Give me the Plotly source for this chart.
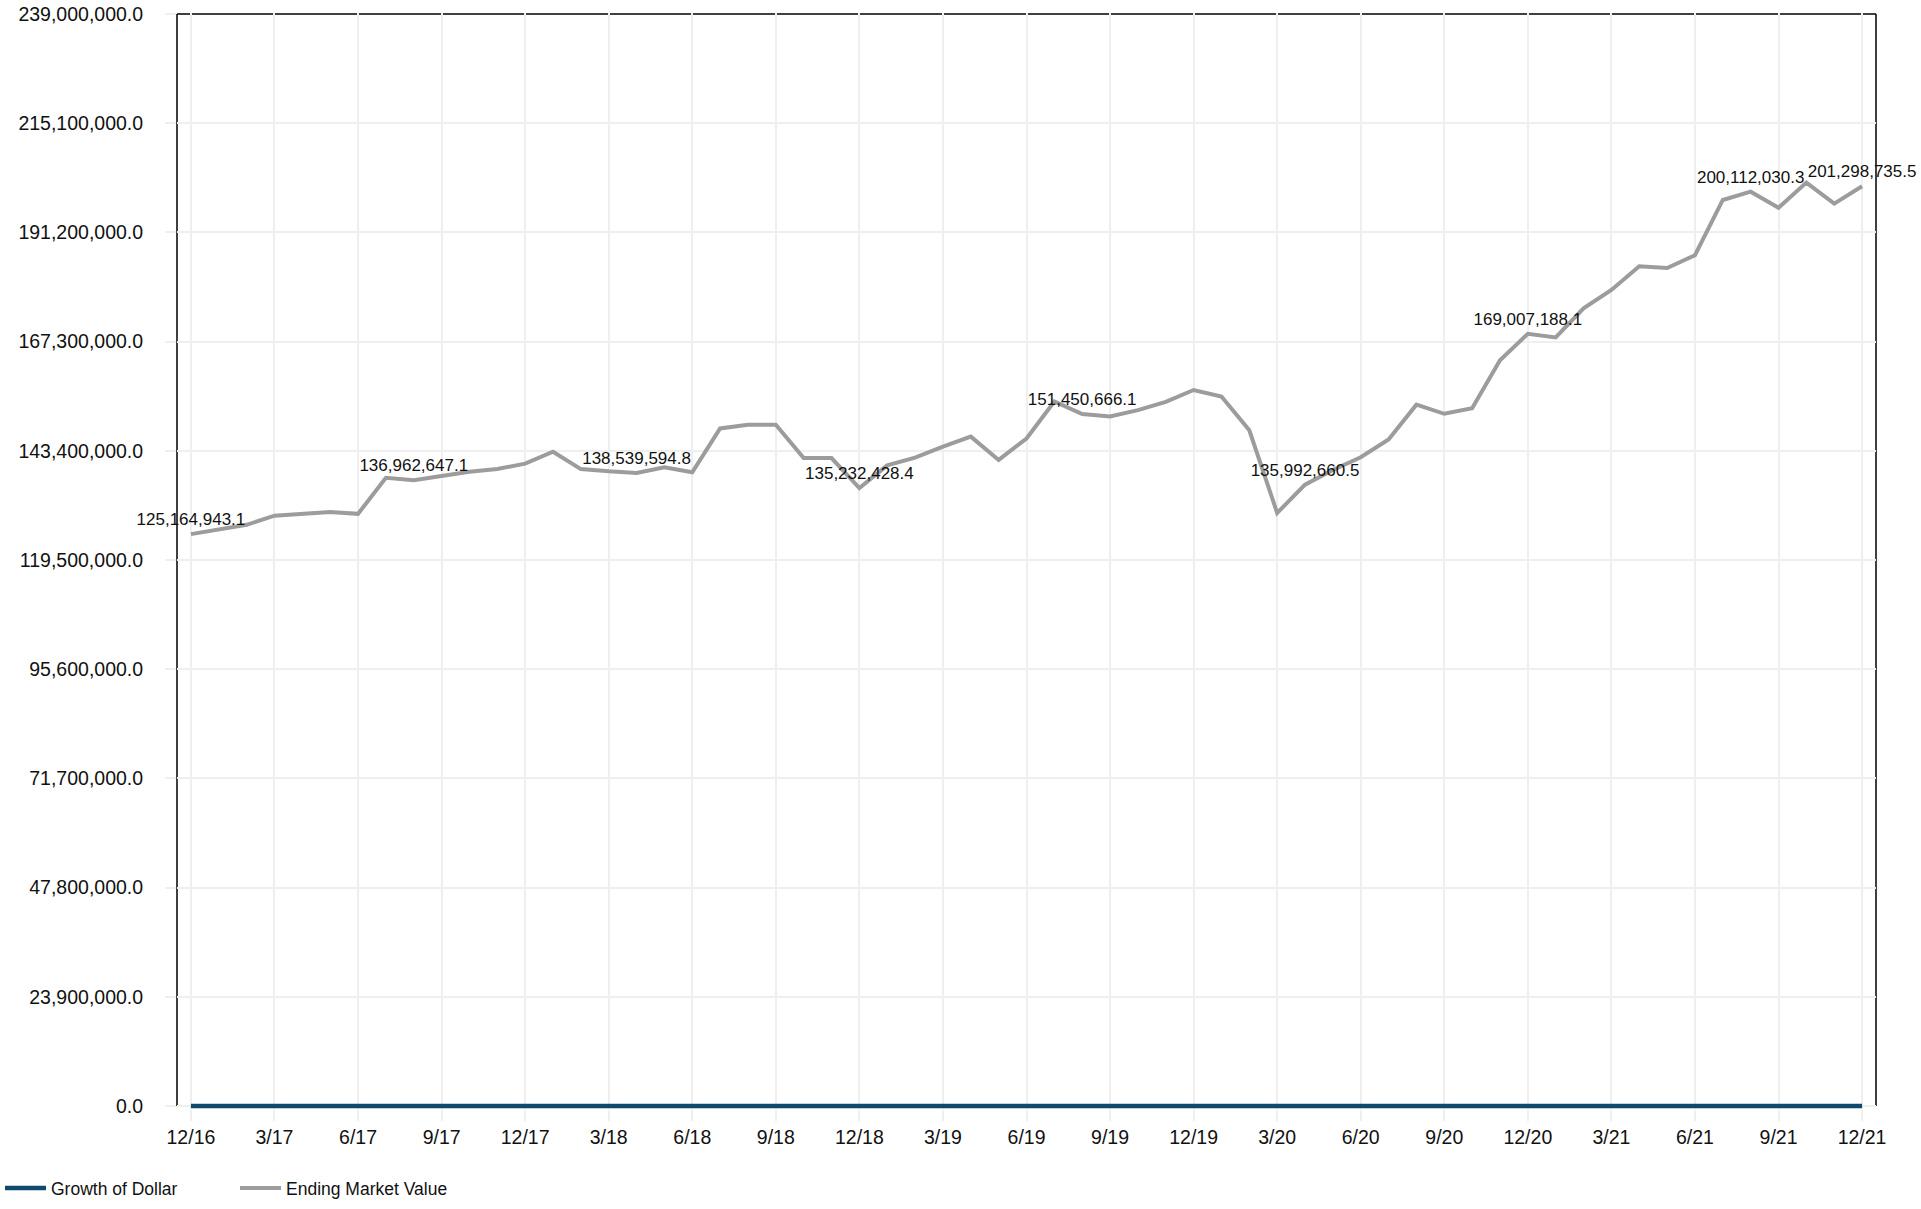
import plotly.graph_objects as go

# Month-end periods, 12/16 through 12/21
months = [
    "12/16",
    "1/17", "2/17", "3/17", "4/17", "5/17", "6/17", "7/17", "8/17", "9/17", "10/17", "11/17", "12/17",
    "1/18", "2/18", "3/18", "4/18", "5/18", "6/18", "7/18", "8/18", "9/18", "10/18", "11/18", "12/18",
    "1/19", "2/19", "3/19", "4/19", "5/19", "6/19", "7/19", "8/19", "9/19", "10/19", "11/19", "12/19",
    "1/20", "2/20", "3/20", "4/20", "5/20", "6/20", "7/20", "8/20", "9/20", "10/20", "11/20", "12/20",
    "1/21", "2/21", "3/21", "4/21", "5/21", "6/21", "7/21", "8/21", "9/21", "10/21", "11/21", "12/21",
]

# Ending market value per month
ending_market_value = [
    125164943.1,
    126100000, 127200000, 129200000, 129600000, 130000000, 129600000,
    137500000, 136962647.1, 137900000, 138800000, 139400000, 140600000,
    143200000, 139400000, 138900000, 138539594.8, 139800000, 138700000,
    148300000, 149100000, 149100000, 141800000, 141800000, 135232428.4,
    140200000, 141900000, 144300000, 146500000, 141400000, 146100000,
    154200000, 151450666.1, 150900000, 152300000, 154100000, 156700000,
    155300000, 147900000, 129800000, 135992660.5, 139200000, 142000000,
    145900000, 153500000, 151500000, 152700000, 163200000, 169007188.1,
    168200000, 174600000, 178600000, 183800000, 183400000, 186200000,
    198300000, 200112030.3, 196600000, 202100000, 197500000, 201298735.5,
]

# Growth of one dollar (sits on the baseline at this scale)
growth_of_dollar = [
    1.0,
    1.0, 1.0, 1.0, 1.0, 1.0, 1.0, 1.0, 1.0, 1.0, 1.0, 1.0, 1.0,
    1.0, 1.0, 1.0, 1.0, 1.0, 1.0, 1.0, 1.0, 1.0, 1.0, 1.0, 1.0,
    1.0, 1.0, 1.0, 1.0, 1.0, 1.0, 1.0, 1.0, 1.0, 1.0, 1.0, 1.0,
    1.0, 1.0, 1.0, 1.0, 1.0, 1.0, 1.0, 1.0, 1.0, 1.0, 1.0, 1.0,
    1.0, 1.0, 1.0, 1.0, 1.0, 1.0, 1.0, 1.0, 1.0, 1.0, 1.0, 1.0,
]

# Periods whose value is printed on the chart
labeled_periods = ["12/16", "8/17", "4/18", "12/18", "8/19", "4/20", "12/20", "8/21", "12/21"]

x_ticks = ["12/16", "3/17", "6/17", "9/17", "12/17", "3/18", "6/18", "9/18", "12/18",
           "3/19", "6/19", "9/19", "12/19", "3/20", "6/20", "9/20", "12/20",
           "3/21", "6/21", "9/21", "12/21"]
y_ticks = [0, 23900000, 47800000, 71700000, 95600000, 119500000,
           143400000, 167300000, 191200000, 215100000, 239000000]

FONT = "Liberation Sans, Arial, sans-serif"
GRID = "#efefef"
GRAY = "#9c9c9c"
BLUE = "#0f4a6c"
INK = "#111111"

value_text = [f"{v:,.1f}" if m in labeled_periods else ""
              for m, v in zip(months, ending_market_value)]

fig = go.Figure()
fig.add_trace(go.Scatter(
    x=months, y=growth_of_dollar, name="Growth of Dollar",
    mode="lines", line=dict(color=BLUE, width=4.5),
))
fig.add_trace(go.Scatter(
    x=months, y=ending_market_value, name="Ending Market Value",
    mode="lines+markers+text", line=dict(color=GRAY, width=4),
    # invisible markers only set the gap between each point and its label
    marker=dict(size=6, color="rgba(0,0,0,0)"),
    text=value_text, textposition="top center",
    textfont=dict(family=FONT, size=17, color=INK),
    cliponaxis=False,
))

# Value range with a few pixels of slack so the frame lines are not clipped
y_top = y_ticks[-1]
px = y_top / 1092
y_range = [-3 * px, y_top + 1 * px]

# Plot frame: drawn over the grid but under the series
frame = dict(type="line", line=dict(color="black", width=1.5), layer="between")
fig.add_shape(**frame, xref="paper", yref="y", x0=0, x1=1, y0=y_top, y1=y_top)
fig.add_shape(**frame, xref="paper", yref="y", x0=0, x1=1, y0=0, y1=0)
fig.add_shape(**frame, xref="paper", yref="y", x0=0, x1=0, y0=0, y1=y_top)
fig.add_shape(**frame, xref="paper", yref="y", x0=1, x1=1, y0=0, y1=y_top)

fig.update_layout(
    width=1921, height=1209,
    margin=dict(l=177, r=45, t=13, b=100, autoexpand=False),
    paper_bgcolor="white", plot_bgcolor="white",
    font=dict(family=FONT, size=19, color=INK),
    showlegend=True,
    legend=dict(
        orientation="h", xref="container", yref="container",
        x=0.0, y=1 - 1188 / 1209, xanchor="left", yanchor="middle",
        font=dict(family=FONT, size=17.5, color=INK),
        entrywidth=179, itemwidth=41, bgcolor="rgba(0,0,0,0)",
        itemclick=False,
    ),
    xaxis=dict(
        type="category", categoryorder="array", categoryarray=months,
        range=[-0.5, len(months) - 0.5],
        tickmode="array", tickvals=x_ticks, ticktext=x_ticks,
        showgrid=True, gridcolor=GRID, gridwidth=2,
        ticks="outside", ticklen=11, tickwidth=2, tickcolor=GRID,
        showline=False, zeroline=False,
        tickfont=dict(family=FONT, size=19.5, color=INK),
        ticklabelstandoff=0,
    ),
    yaxis=dict(
        range=y_range,
        tickmode="array", tickvals=y_ticks, tickformat=",.1f",
        showgrid=True, gridcolor=GRID, gridwidth=2,
        ticks="outside", ticklen=11, tickwidth=2, tickcolor=GRID,
        showline=False, zeroline=False,
        tickfont=dict(family=FONT, size=19.5, color=INK),
        ticklabelstandoff=18,
    ),
)

fig.write_html("out.html")
